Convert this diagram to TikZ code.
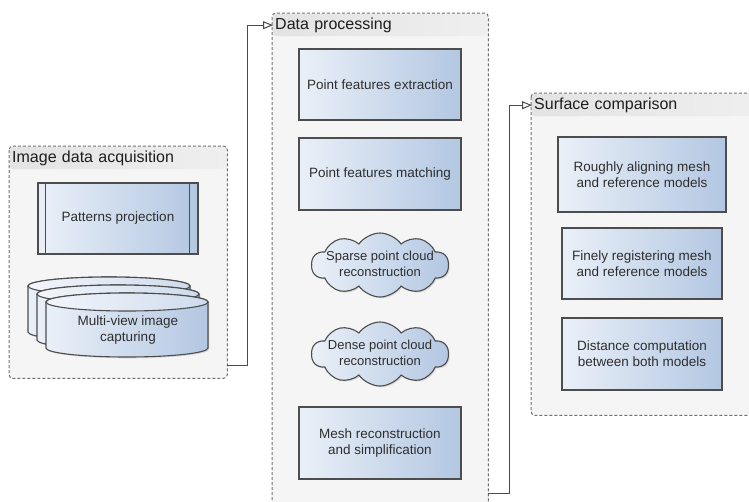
\documentclass[tikz,border=0pt]{standalone}
\usepackage{fontspec}
\setmainfont{Liberation Sans}
\usetikzlibrary{shapes.symbols,arrows.meta,shadows,calc}
\definecolor{boxA}{HTML}{EAF0F8}
\definecolor{boxB}{HTML}{B3C7E2}
\definecolor{boxline}{HTML}{4D4D4D}
\definecolor{contfill}{HTML}{F5F5F5}
\definecolor{contline}{HTML}{707070}
\definecolor{headA}{HTML}{E3E3E3}
\definecolor{headB}{HTML}{EFEFEF}
\definecolor{txtc}{HTML}{2E2E2E}
\definecolor{titc}{HTML}{1E1E1E}
\definecolor{connc}{HTML}{4A4A4A}
\newcommand\cloudtext[1]{\makebox[50pt][c]{\begin{tabular}{@{}c@{}}#1\end{tabular}}}
\begin{document}
\begin{tikzpicture}[x=1pt,y=1pt,
  myshadow/.style={drop shadow={shadow xshift=1.3pt, shadow yshift=-1.3pt, opacity=0.25}},
  box/.style={draw=boxline, line width=1.1pt, left color=boxA, right color=boxB,
    minimum width=162pt, minimum height=71pt, inner sep=0pt, align=center,
    font=\fontsize{13.5}{16}\selectfont, text=txtc, myshadow},
  cloudbox/.style={cloud, cloud puffs=10, cloud puff arc=110, cloud ignores aspect,
    draw=boxline, line width=1.1pt, left color=boxA, right color=boxB,
    minimum width=137pt, minimum height=64pt, inner sep=0pt,
    font=\fontsize{13}{16}\selectfont, text=txtc, myshadow},
  container/.style={fill=contfill, rounded corners=4pt, inner sep=0pt, anchor=north west},
  contborder/.style={draw=contline, line width=1pt, dash pattern=on 3pt off 2pt, rounded corners=4pt},
  head/.style={left color=headA, right color=headB, rounded corners=3pt, anchor=north west,
    inner xsep=2pt, inner ysep=0pt, align=left, minimum height=22pt,
    font=\fontsize{16}{19}\selectfont, text=titc},
  cylbody/.style={draw=boxline, line width=1.1pt, left color=boxA, right color=boxB},
  cyltop/.style={draw=boxline, line width=1.1pt, left color=boxA!60!white, right color=boxA!50!boxB},
  txt/.style={font=\fontsize{13.5}{16}\selectfont, text=txtc, align=center},
  conn/.style={draw=connc, line width=1pt, -{Triangle[open, length=10pt, width=8pt]}}
]
\useasboundingbox (0,0) rectangle (749,-501);
\clip (0,0) rectangle (749,-501);

% containers
\node[container, minimum width=218pt, minimum height=232pt] (acq) at (9,-146) {};
\node[container, minimum width=216pt, minimum height=492pt] (proc) at (272,-13) {};
\node[container, minimum width=230pt, minimum height=322pt] (surf) at (531,-93) {};

\node[head, text width=212pt] (acqh) at (10,-147) {Image data acquisition};
\node[head, text width=210pt] (proch) at (273,-14) {Data processing};
\node[head, text width=224pt] (surfh) at (532,-94) {Surface comparison};

\draw[contborder] (acq.north west) rectangle (acq.south east);
\draw[contborder] (proc.north west) rectangle (proc.south east);
\draw[contborder] (surf.north west) rectangle (surf.south east);

% image data acquisition
\node[box, minimum width=160pt, minimum height=71pt] (pp) at (118,-218.5) {Patterns projection};
\draw[boxline, line width=1.1pt] ([xshift=8pt]pp.north west) -- ([xshift=8pt]pp.south west);
\draw[boxline, line width=1.1pt] ([xshift=-9pt]pp.north east) -- ([xshift=-9pt]pp.south east);

% stacked cylinders
\path[cylbody, myshadow] (28,-286) -- (28,-332) arc[start angle=180, end angle=360, x radius=81pt, y radius=9pt] -- (190,-286) arc[start angle=0, end angle=180, x radius=81pt, y radius=9pt] -- cycle;
\path[cyltop] (109,-286) ellipse [x radius=81pt, y radius=9pt];
\path[cylbody, myshadow] (37,-294) -- (37,-340) arc[start angle=180, end angle=360, x radius=81pt, y radius=9pt] -- (199,-294) arc[start angle=0, end angle=180, x radius=81pt, y radius=9pt] -- cycle;
\path[cyltop] (118,-294) ellipse [x radius=81pt, y radius=9pt];
\path[cylbody, myshadow] (46,-302) -- (46,-348) arc[start angle=180, end angle=360, x radius=81pt, y radius=9pt] -- (208,-302) arc[start angle=0, end angle=180, x radius=81pt, y radius=9pt] -- cycle;
\path[cyltop] (127,-302) ellipse [x radius=81pt, y radius=9pt];
\node[txt] (mvc) at (128,-330) {Multi-view image\\capturing};

% data processing
\node[box] (pfe) at (380,-84.5) {Point features extraction};
\node[box, minimum height=72pt] (pfm) at (380,-174) {Point features matching};
\node[cloudbox] (spc) at (380,-265) {\cloudtext{Sparse point cloud\\reconstruction}};
\node[cloudbox] (dpc) at (380,-354) {\cloudtext{Dense point cloud\\reconstruction}};
\node[box, minimum height=72pt] (mesh) at (380,-443) {Mesh reconstruction\\and simplification};

% surface comparison
\node[box, minimum width=168pt, minimum height=75pt] (rough) at (642,-174.5) {Roughly aligning mesh\\and reference models};
\node[box, minimum width=160pt, minimum height=71pt] (fine) at (642,-263.5) {Finely registering mesh\\and reference models};
\node[box, minimum width=160pt, minimum height=72pt] (dist) at (642,-354) {Distance computation\\between both models};

% connectors
\draw[conn] ([yshift=13pt]acq.south east) -- ++(20,0) |- (proch.west);
\draw[conn] ([yshift=12pt]proc.south east) -- ++(21,0) |- (surfh.west);
\end{tikzpicture}
\end{document}
